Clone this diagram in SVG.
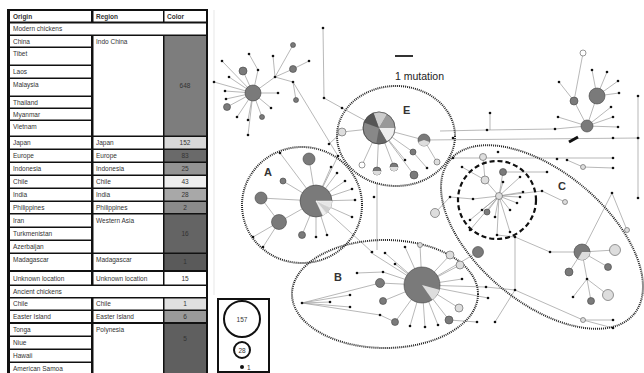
<svg xmlns="http://www.w3.org/2000/svg" width="644" height="373" viewBox="0 0 644 373">
<style>
.c{fill:#fff}
.t{font-family:"Liberation Sans",Arial,sans-serif;font-size:6.5px;fill:#333}
.h{font-weight:bold}
.n{text-anchor:middle}
.e{stroke:#9a9a9a;stroke-width:0.7;fill:none}
.d{fill:#111}
.g{fill:#7a7a7a;stroke:#444;stroke-width:0.6}
.l{fill:#ddd;stroke:#555;stroke-width:0.6}
.w{fill:#fff;stroke:#555;stroke-width:0.6}
.el{fill:none;stroke:#222;stroke-width:2;stroke-dasharray:1 1}
.lab{font-family:"Liberation Sans",Arial,sans-serif;font-size:11px;font-weight:bold;fill:#333}
</style>
<rect width="644" height="373" fill="#fff"/>
<g id="table">
<rect x="7" y="9" width="201" height="366" fill="#111"/>
<rect class="c" x="10" y="11" width="81" height="10.5"/><rect class="c" x="93.5" y="11" width="69.5" height="10.5"/><rect class="c" x="164.5" y="11" width="41.5" height="10.5"/>
<text class="t h" x="13" y="18.5">Origin</text><text class="t h" x="96" y="18.5">Region</text><text class="t h" x="167" y="18.5">Color</text>
<rect class="c" x="10" y="23.5" width="196" height="11"/><text class="t" x="13" y="31">Modern chickens</text>
<rect class="c" x="10" y="36" width="81" height="10.5"/><text class="t" x="13" y="43.5">China</text>
<rect class="c" x="10" y="48" width="81" height="16.5"/><text class="t" x="13" y="56">Tibet</text>
<rect class="c" x="10" y="66" width="81" height="11.5"/><text class="t" x="13" y="74">Laos</text>
<rect class="c" x="10" y="79" width="81" height="16.5"/><text class="t" x="13" y="87">Malaysia</text>
<rect class="c" x="10" y="97" width="81" height="10.5"/><text class="t" x="13" y="104.5">Thailand</text>
<rect class="c" x="10" y="109" width="81" height="10.5"/><text class="t" x="13" y="116.5">Myanmar</text>
<rect class="c" x="10" y="121" width="81" height="14.5"/><text class="t" x="13" y="129">Vietnam</text>
<rect class="c" x="93.5" y="36" width="69.5" height="99.5"/><text class="t" x="96" y="43.5">Indo China</text>
<rect x="164.5" y="36" width="41.5" height="99.5" fill="#7d7d7d"/><text class="t n" x="185" y="88">648</text>
<rect class="c" x="10" y="137" width="81" height="11.5"/><rect class="c" x="93.5" y="137" width="69.5" height="11.5"/><rect x="164.5" y="137" width="41.5" height="11.5" fill="#d8d8d8"/>
<text class="t" x="13" y="145">Japan</text><text class="t" x="96" y="145">Japan</text><text class="t n" x="185" y="145">152</text>
<rect class="c" x="10" y="150" width="81" height="11.5"/><rect class="c" x="93.5" y="150" width="69.5" height="11.5"/><rect x="164.5" y="150" width="41.5" height="11.5" fill="#6a6a6a"/>
<text class="t" x="13" y="158">Europe</text><text class="t" x="96" y="158">Europe</text><text class="t n" x="185" y="158">83</text>
<rect class="c" x="10" y="163" width="81" height="11.5"/><rect class="c" x="93.5" y="163" width="69.5" height="11.5"/><rect x="164.5" y="163" width="41.5" height="11.5" fill="#939393"/>
<text class="t" x="13" y="171">Indonesia</text><text class="t" x="96" y="171">Indonesia</text><text class="t n" x="185" y="171">25</text>
<rect class="c" x="10" y="176" width="81" height="11.5"/><rect class="c" x="93.5" y="176" width="69.5" height="11.5"/><rect x="164.5" y="176" width="41.5" height="11.5" fill="#eeeeee"/>
<text class="t" x="13" y="184">Chile</text><text class="t" x="96" y="184">Chile</text><text class="t n" x="185" y="184">43</text>
<rect class="c" x="10" y="189" width="81" height="11.5"/><rect class="c" x="93.5" y="189" width="69.5" height="11.5"/><rect x="164.5" y="189" width="41.5" height="11.5" fill="#a8a8a8"/>
<text class="t" x="13" y="197">India</text><text class="t" x="96" y="197">India</text><text class="t n" x="185" y="197">28</text>
<rect class="c" x="10" y="202" width="81" height="11"/><rect class="c" x="93.5" y="202" width="69.5" height="11"/><rect x="164.5" y="202" width="41.5" height="11" fill="#8a8a8a"/>
<text class="t" x="13" y="210">Philippines</text><text class="t" x="96" y="210">Philippines</text><text class="t n" x="185" y="210">2</text>
<rect class="c" x="10" y="214.5" width="81" height="12"/><text class="t" x="13" y="222.5">Iran</text>
<rect class="c" x="10" y="228" width="81" height="11.5"/><text class="t" x="13" y="236">Turkmenistan</text>
<rect class="c" x="10" y="241" width="81" height="11.5"/><text class="t" x="13" y="249">Azerbaijan</text>
<rect class="c" x="93.5" y="214.5" width="69.5" height="38"/><text class="t" x="96" y="222.5">Western Asia</text>
<rect x="164.5" y="214.5" width="41.5" height="38" fill="#646464"/><text class="t n" x="185" y="235.5">16</text>
<rect class="c" x="10" y="254" width="81" height="16"/><rect class="c" x="93.5" y="254" width="69.5" height="16"/><rect x="164.5" y="254" width="41.5" height="16" fill="#5a5a5a"/>
<text class="t" x="13" y="262">Madagascar</text><text class="t" x="96" y="262">Madagascar</text><text class="t n" x="185" y="264">1</text>
<rect class="c" x="10" y="272" width="81" height="12.5"/><rect class="c" x="93.5" y="272" width="69.5" height="12.5"/><rect class="c" x="164.5" y="272" width="41.5" height="12.5"/>
<text class="t" x="13" y="280.5">Unknown location</text><text class="t" x="96" y="280.5">Unknown location</text><text class="t n" x="185" y="280.5">15</text>
<rect class="c" x="10" y="286" width="196" height="11"/><text class="t" x="13" y="293.5">Ancient chickens</text>
<rect class="c" x="10" y="298.5" width="81" height="11"/><rect class="c" x="93.5" y="298.5" width="69.5" height="11"/><rect x="164.5" y="298.5" width="41.5" height="11" fill="#e0e0e0"/>
<text class="t" x="13" y="306">Chile</text><text class="t" x="96" y="306">Chile</text><text class="t n" x="185" y="306">1</text>
<rect class="c" x="10" y="311" width="81" height="11"/><rect class="c" x="93.5" y="311" width="69.5" height="11"/><rect x="164.5" y="311" width="41.5" height="11" fill="#9a9a9a"/>
<text class="t" x="13" y="318.5">Easter Island</text><text class="t" x="96" y="318.5">Easter Island</text><text class="t n" x="185" y="318.5">6</text>
<rect class="c" x="10" y="324" width="81" height="11.5"/><text class="t" x="13" y="332">Tonga</text>
<rect class="c" x="10" y="337" width="81" height="11.5"/><text class="t" x="13" y="345">Niue</text>
<rect class="c" x="10" y="350" width="81" height="11.5"/><text class="t" x="13" y="358">Hawaii</text>
<rect class="c" x="10" y="363" width="81" height="12"/><text class="t" x="13" y="371">American Samoa</text>
<rect class="c" x="93.5" y="324" width="69.5" height="51"/><text class="t" x="96" y="332">Polynesia</text>
<rect x="164.5" y="324" width="41.5" height="51" fill="#5f5f5f"/><text class="t n" x="185" y="341">5</text>
</g>
<g id="connectors">
<line x1="214" y1="10" x2="214" y2="295" stroke="#ddd" stroke-width="0.7"/>
<path class="e" d="M253,93L222,61M253,93L229,77M253,93L214,82M253,93L225,91M253,93L226,99M253,93L227,107M253,93L237,117M253,93L248,120M253,93L262,117M253,93L271,108M253,93L278,93M253,93L258,70M258,70L249,54M253,93L243,71M253,93L248,135M253,93L275,77M275,77L273,56M275,77L293,45M275,77L293,69M293,69L309,61M275,77L293,82M293,82L296,100M293,82L338,156M323,28L324,98L342,108L379,128
M379,128L342,132L329,144M379,128L362,165M379,128L377,171M379,128L394,167M379,128L414,175M379,128L413,152M379,128L424,140M424,140L437,162M413,152L427,168M379,128L405,160M424,140L640,138M440,131L487,130L555,129L587,126M490,113L490,130
M587,126L597,96M587,126L574,101L583,53M597,96L592,70M597,96L607,72M597,96L618,81M597,96L619,93M587,126L611,107M587,126L613,117M587,126L618,127M587,126L558,117M574,101L559,82M638,96L638,198
M453,158L613,158M503,172L547,172M567,160L583,167L613,168M499,196L503,172M499,196L485,180M499,196L487,212M499,196L473,199M485,180L462,167M485,180L483,157M499,196L482,210M499,196L495,217M499,196L510,210M499,196L517,203M499,196L520,197M499,196L523,192M499,196L503,182M499,196L520,177M499,196L470,220M499,196L497,235M499,196L470,230M499,196L510,232M499,196L542,191L565,202M473,199L450,197L435,213
M497,235L515,237L515,290M515,237L550,252L582,252L615,250M582,252L608,267M582,252L569,272M582,252L587,279M587,279L608,295M587,279L591,301M587,279L573,297M582,252L612,193L627,230M515,290L495,322M515,290L583,320L613,320M583,320L613,328
M316,201L309,159M316,201L283,181M316,201L261,198M261,198L279,222M316,201L279,222M279,222L253,237M279,222L263,247M316,201L302,235M316,201L316,237M316,201L327,235M316,201L331,167M316,201L337,173M316,201L345,181M316,201L352,189M316,201L355,200M316,201L352,217M316,201L280,153M316,201L372,252M338,156L316,201M377,183L377,250
M422,285L380,283M422,285L383,301M422,285L395,322M422,285L370,252M422,285L385,253M422,285L405,247M422,285L420,245M422,285L395,264M422,285L450,255M422,285L460,265M422,285L462,279M422,285L486,287M422,285L488,298M422,285L459,308M422,285L449,320L477,322M422,285L438,325M422,285L425,327M422,285L410,326M383,272L357,273M422,285L383,272M302,303L330,302M302,303L350,295M302,303L350,307M302,303L380,315M302,303L380,283M380,315L395,322M422,285L478,252M486,287L515,290"/>
<line x1="569" y1="142" x2="578" y2="137" stroke="#111" stroke-width="3"/>
</g>
<g id="clusters">
<ellipse id="E" class="el" cx="396" cy="136" rx="59" ry="50"/>
<ellipse id="A" class="el" cx="302" cy="205" rx="60" ry="58"/>
<ellipse id="B" class="el" cx="385" cy="294" rx="93" ry="54"/>
<ellipse id="C" class="el" cx="542" cy="237" rx="120" ry="65" transform="rotate(40 542 237)"/>
<circle id="C-sub" cx="497" cy="200" r="39" fill="none" stroke="#111" stroke-width="2.2" stroke-dasharray="5 3"/>
<text class="lab" x="403" y="114">E</text>
<text class="lab" x="264" y="176">A</text>
<text class="lab" x="334" y="281">B</text>
<text class="lab" x="558" y="190">C</text>
</g>
<g id="nodes">
<g id="pieE">
<circle cx="379" cy="128" r="16" fill="#888" stroke="#444" stroke-width="0.6"/>
<path d="M379,128L373.53,112.96A16,16 0 0 1 387,114.14Z" fill="#ccc"/>
<path d="M379,128L387,114.14A16,16 0 0 1 395,128Z" fill="#999"/>
<path d="M379,128L395,128A16,16 0 0 1 387,141.86Z" fill="#eee"/>
<path d="M379,128L387,141.86A16,16 0 0 1 376.22,143.76Z" fill="#666"/>
<path d="M379,128L363.96,122.53A16,16 0 0 1 373.53,112.96Z" fill="#555"/>
<circle cx="379" cy="128" r="16" fill="none" stroke="#444" stroke-width="0.6"/>
</g>
<g id="pieA">
<circle cx="316" cy="201" r="16" class="g"/>
<path d="M316,201L332,201A16,16 0 0 1 330.5,207.76Z" fill="#e6e6e6" stroke="#fff" stroke-width="0.4"/>
<path d="M316,201L330.5,207.76A16,16 0 0 1 326.28,213.26Z" fill="#cfcfcf" stroke="#fff" stroke-width="0.4"/>
<path d="M316,201L326.28,213.26A16,16 0 0 1 322.76,215.5Z" fill="#f0f0f0" stroke="#fff" stroke-width="0.4"/>
</g>
<g id="pieB">
<circle cx="422" cy="285" r="18" class="g"/>
<path d="M422,285L439.39,289.66A18,18 0 0 1 432.32,299.74Z" fill="#ddd"/>
</g>
<g id="nodeE2">
<circle cx="424" cy="140" r="6" class="g"/>
<path d="M424,140L429.64,142.05A6,6 0 0 1 418.36,142.05Z" fill="#ddd"/>
</g>
<g id="nodeC2">
<circle cx="582" cy="252" r="8" class="g"/>
<path d="M582,252L590,252A8,8 0 0 1 578,258.93Z" fill="#ddd"/>
</g>
<g id="grey">
<circle class="g" cx="253" cy="93" r="8"/><circle class="g" cx="243" cy="71" r="4"/><circle class="g" cx="227" cy="107" r="3.5"/><circle class="g" cx="262" cy="117" r="2.5"/><circle class="g" cx="293" cy="45" r="2.5"/><circle class="g" cx="293" cy="69" r="3.5"/><circle class="g" cx="296" cy="100" r="2.5"/>
<circle class="g" cx="597" cy="96" r="8"/><circle class="g" cx="574" cy="101" r="4"/><circle class="g" cx="587" cy="126" r="6"/>
<circle class="g" cx="503" cy="172" r="3.5"/><circle class="g" cx="487" cy="212" r="3"/><circle class="g" cx="569" cy="272" r="4"/><circle class="g" cx="608" cy="267" r="3.5"/><circle class="g" cx="591" cy="301" r="3.5"/><circle class="g" cx="478" cy="252" r="5.5"/>
<circle class="g" cx="309" cy="159" r="6"/><circle class="g" cx="261" cy="198" r="6"/><circle class="g" cx="279" cy="222" r="7.5"/><circle class="g" cx="283" cy="181" r="3"/><circle class="g" cx="302" cy="235" r="3.5"/>
<circle class="g" cx="380" cy="283" r="4.5"/><circle class="g" cx="383" cy="301" r="3.5"/><circle class="g" cx="395" cy="322" r="3.5"/><circle class="g" cx="449" cy="320" r="4"/><circle class="g" cx="413" cy="152" r="3"/><circle class="g" cx="414" cy="175" r="4"/>
<circle class="g" cx="377" cy="171" r="4"/><path d="M377,171L381,171A4,4 0 0 1 373,171Z" fill="#ddd"/>
<circle class="g" cx="394" cy="167" r="4"/><path d="M394,167L398,167A4,4 0 0 1 390,167Z" fill="#ddd"/>
</g>
<g id="light">
<circle class="l" cx="342" cy="132" r="4"/><circle class="l" cx="437" cy="162" r="3"/><circle class="l" cx="485" cy="180" r="4"/><circle class="l" cx="499" cy="196" r="3.5"/><circle class="l" cx="435" cy="213" r="4.5"/><circle class="l" cx="483" cy="157" r="3.5"/><circle class="l" cx="583" cy="167" r="2.5"/><circle class="l" cx="565" cy="202" r="2.5"/><circle class="l" cx="615" cy="250" r="5.5"/><circle class="l" cx="608" cy="295" r="5.5"/><circle class="l" cx="627" cy="230" r="2.5"/><circle class="l" cx="583" cy="320" r="2.5"/><circle class="l" cx="450" cy="255" r="4"/><circle class="l" cx="460" cy="265" r="4"/><circle class="l" cx="459" cy="308" r="4"/><circle class="l" cx="420" cy="245" r="2.5"/>
<circle class="w" cx="583" cy="53" r="3"/><circle class="w" cx="362" cy="165" r="3"/>
</g>
<g id="dots" class="d">
<circle cx="222" cy="61" r="1.3"/><circle cx="229" cy="77" r="1.3"/><circle cx="214" cy="82" r="1.3"/><circle cx="225" cy="91" r="1.3"/><circle cx="226" cy="99" r="1.3"/><circle cx="237" cy="117" r="1.3"/><circle cx="248" cy="120" r="1.3"/><circle cx="271" cy="108" r="1.3"/><circle cx="278" cy="93" r="1.3"/><circle cx="258" cy="70" r="1.3"/><circle cx="249" cy="54" r="1.3"/><circle cx="248" cy="135" r="1.3"/><circle cx="275" cy="77" r="1.3"/><circle cx="273" cy="56" r="1.3"/><circle cx="309" cy="61" r="1.3"/><circle cx="293" cy="82" r="1.3"/><circle cx="323" cy="28" r="1.3"/><circle cx="324" cy="98" r="1.3"/><circle cx="342" cy="108" r="1.3"/><circle cx="338" cy="156" r="1.3"/><circle cx="329" cy="144" r="1.3"/><circle cx="405" cy="160" r="1.3"/><circle cx="427" cy="168" r="1.3"/>
<circle cx="453" cy="138" r="1.3"/><circle cx="613" cy="138" r="1.3"/><circle cx="638" cy="138" r="1.3"/><circle cx="487" cy="130" r="1.3"/><circle cx="555" cy="129" r="1.3"/><circle cx="490" cy="113" r="1.3"/><circle cx="592" cy="70" r="1.3"/><circle cx="607" cy="72" r="1.3"/><circle cx="618" cy="81" r="1.3"/><circle cx="619" cy="93" r="1.3"/><circle cx="611" cy="107" r="1.3"/><circle cx="613" cy="117" r="1.3"/><circle cx="618" cy="127" r="1.3"/><circle cx="558" cy="117" r="1.3"/><circle cx="559" cy="82" r="1.3"/><circle cx="638" cy="96" r="1.3"/><circle cx="638" cy="198" r="1.3"/>
<circle cx="453" cy="158" r="1.3"/><circle cx="498" cy="152" r="1.3"/><circle cx="557" cy="159" r="1.3"/><circle cx="613" cy="158" r="1.3"/><circle cx="547" cy="172" r="1.3"/><circle cx="567" cy="160" r="1.3"/><circle cx="613" cy="168" r="1.3"/><circle cx="473" cy="199" r="1.3"/><circle cx="462" cy="167" r="1.3"/><circle cx="482" cy="210" r="1.3"/><circle cx="495" cy="217" r="1.3"/><circle cx="510" cy="210" r="1.3"/><circle cx="517" cy="203" r="1.3"/><circle cx="520" cy="197" r="1.3"/><circle cx="523" cy="192" r="1.3"/><circle cx="503" cy="182" r="1.3"/><circle cx="520" cy="177" r="1.3"/><circle cx="470" cy="220" r="1.3"/><circle cx="497" cy="235" r="1.3"/><circle cx="470" cy="230" r="1.3"/><circle cx="510" cy="232" r="1.3"/><circle cx="542" cy="191" r="1.3"/><circle cx="450" cy="197" r="1.3"/>
<circle cx="515" cy="237" r="1.3"/><circle cx="515" cy="290" r="1.3"/><circle cx="550" cy="252" r="1.3"/><circle cx="587" cy="279" r="1.3"/><circle cx="573" cy="297" r="1.3"/><circle cx="612" cy="193" r="1.3"/><circle cx="495" cy="322" r="1.3"/><circle cx="613" cy="320" r="1.3"/><circle cx="613" cy="328" r="1.3"/>
<circle cx="280" cy="153" r="1.3"/><circle cx="331" cy="167" r="1.3"/><circle cx="337" cy="173" r="1.3"/><circle cx="345" cy="181" r="1.3"/><circle cx="352" cy="189" r="1.3"/><circle cx="355" cy="200" r="1.3"/><circle cx="352" cy="217" r="1.3"/><circle cx="316" cy="237" r="1.3"/><circle cx="327" cy="235" r="1.3"/><circle cx="253" cy="237" r="1.3"/><circle cx="263" cy="247" r="1.3"/><circle cx="372" cy="252" r="1.3"/><circle cx="374" cy="197" r="1.3"/>
<circle cx="385" cy="253" r="1.3"/><circle cx="405" cy="247" r="1.3"/><circle cx="395" cy="264" r="1.3"/><circle cx="462" cy="279" r="1.3"/><circle cx="486" cy="287" r="1.3"/><circle cx="488" cy="298" r="1.3"/><circle cx="477" cy="322" r="1.3"/><circle cx="438" cy="325" r="1.3"/><circle cx="425" cy="327" r="1.3"/><circle cx="410" cy="326" r="1.3"/><circle cx="357" cy="273" r="1.3"/><circle cx="383" cy="272" r="1.3"/><circle cx="302" cy="303" r="1.3"/><circle cx="330" cy="302" r="1.3"/><circle cx="350" cy="295" r="1.3"/><circle cx="350" cy="307" r="1.3"/><circle cx="380" cy="315" r="1.3"/>
</g>
</g>
<g id="scale">
<line x1="395" y1="56" x2="413" y2="56" stroke="#333" stroke-width="2"/>
<text x="395" y="80" font-family="Liberation Sans, Arial, sans-serif" font-size="10.5" fill="#222">1 mutation</text>
</g>
<g id="legend">
<rect x="218" y="299" width="51" height="73" fill="#fff" stroke="#111" stroke-width="2"/>
<circle cx="242" cy="319" r="18" fill="#fff" stroke="#111" stroke-width="2"/>
<text class="t n" x="242" y="321.5">157</text>
<circle cx="242" cy="350" r="8" fill="#fff" stroke="#111" stroke-width="2"/>
<text class="t n" x="242" y="352.5">28</text>
<circle cx="242" cy="367" r="2" fill="#111"/>
<text class="t" x="247" y="369.5">1</text>
</g>
</svg>
